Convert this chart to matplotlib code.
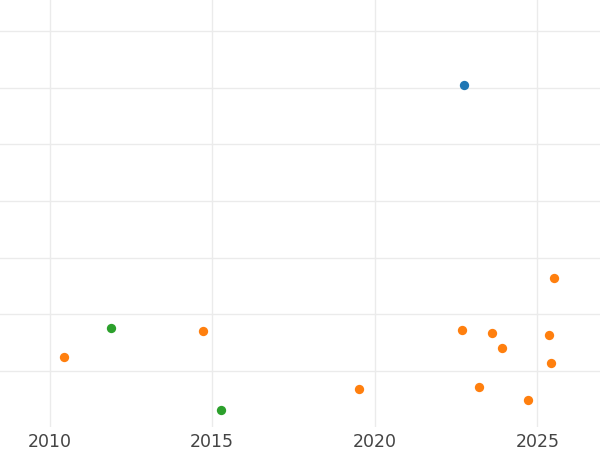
import matplotlib
matplotlib.use("Agg")
import matplotlib.pyplot as plt

blue_x = [2022.76]
blue_y = [50.4]
orange_x = [2010.45, 2014.72, 2019.51, 2022.69, 2023.21, 2023.61, 2023.93, 2024.70, 2025.35, 2025.42, 2025.53]
orange_y = [2.47, 7.06, -3.12, 7.23, -2.77, 6.71, 4.06, -5.12, 6.30, 1.46, 16.46]
green_x = [2011.88, 2015.27]
green_y = [7.64, -6.88]
xticks = [2010, 2015, 2020, 2025]
yticks = [0, 10, 20, 30, 40, 50, 60]

fig = plt.figure(figsize=(6, 4.5), dpi=100)
ax = fig.add_axes([0, 0.051, 1, 0.949])
ax.scatter(blue_x, blue_y, s=45, color="#1f77b4", zorder=3, linewidths=0)
ax.scatter(orange_x, orange_y, s=45, color="#ff7f0e", zorder=3, linewidths=0)
ax.scatter(green_x, green_y, s=45, color="#2ca02c", zorder=3, linewidths=0)

ax.set_xlim(2008.47, 2026.93)
ax.set_ylim(-9.88, 65.47)
ax.set_xticks(xticks)
ax.set_xticklabels([str(t) for t in xticks])
ax.set_yticks(yticks)
ax.set_yticklabels([])
ax.tick_params(axis="both", length=0, labelsize=12.5, labelcolor="#444444", pad=4)
ax.grid(True, color="#ebebeb", linewidth=1.0)
ax.set_axisbelow(True)
for s in ax.spines.values():
    s.set_visible(False)

fig.savefig("out.png", dpi=100)
